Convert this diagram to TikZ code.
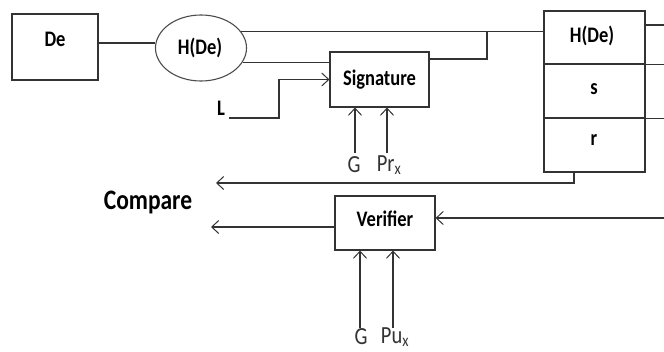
\documentclass[tikz,border=0pt]{standalone}
\usepackage{fontspec}
\usepackage{graphicx}
\setmainfont{Carlito}
\usetikzlibrary{arrows.meta,shapes.geometric,calc}
\newcommand{\vs}[1]{\scalebox{1}[1.2]{#1}}
\begin{document}
\begin{tikzpicture}[x=1pt,y=-1pt,
  ln/.style={draw=black!80,line width=1.1pt},
  blk/.style={draw=black!80,line width=1.1pt,rectangle,inner sep=0pt},
  bl/.style={font=\fontsize{18.5}{22}\selectfont\bfseries,inner sep=0pt},
  rl/.style={font=\fontsize{20.5}{24}\selectfont,text=black!80,inner sep=0pt},
  arr/.style={ln,-{Straight Barb[length=7pt,width=13pt,line width=1pt]}}]
\useasboundingbox (0,0) rectangle (664,351);
% boxes
\node[blk,minimum width=86pt,minimum height=66pt] (de) at (55,47) {};
\node[bl] (detx) at (55,39) {\vs{De}};
\node[draw=black!70,line width=1.1pt,ellipse,minimum width=91pt,minimum height=66pt,inner sep=0pt] (hde) at (201,48) {};
\node[bl] (hdetx) at (200,48) {\vs{H(De)}};
\node[blk,minimum width=99pt,minimum height=55pt] (sig) at (379.5,79.5) {};
\node[bl] (sigtx) at (379.5,79.5) {\vs{Signature}};
\node[blk,minimum width=101pt,minimum height=53pt] (h1) at (594.5,37.5) {};
\node[bl] (h1tx) at (592,36) {\vs{H(De)}};
\node[blk,minimum width=101pt,minimum height=54pt] (sc) at (594.5,91) {};
\node[bl] (sctx) at (594,89) {\vs{s}};
\node[blk,minimum width=101pt,minimum height=54pt] (rc) at (594.5,145) {};
\node[bl] (rctx) at (594,140) {\vs{r}};
\node[blk,minimum width=100pt,minimum height=54pt] (ver) at (385,223) {};
\node[bl] (vertx) at (385,219) {\vs{Verifier}};
\node[bl] (lnode) at (221,108) {\vs{L}};
\node[font=\fontsize{23.5}{28}\selectfont\bfseries,inner sep=0pt] (cmp) at (148,202) {\vs{Compare}};
% coordinates
\coordinate (e1) at (664,25);
\coordinate (e4) at (664,218);
\coordinate (c1) at (216,183);
\coordinate (c2) at (211,227);
\coordinate (lstart) at (229,118);
\coordinate (j) at (487,32);
\coordinate (lk) at (279,118);
\coordinate (a1) at (355,153);
\coordinate (a2) at (387,153);
\coordinate (b1) at (360,328);
\coordinate (b2) at (393,328);
% labels under
\node[rl] (g1) at (354,165) {\vs{G}};
\node[rl] (pr) at (389,165) {\vs{Pr\textsubscript{x}}};
\node[rl] (g2) at (361,337) {\vs{G}};
\node[rl] (pu) at (395,337) {\vs{Pu\textsubscript{x}}};
% connectors
\draw[ln] ([yshift=4pt]de.east) -- ([yshift=4pt]de.east -| hde.west);
\draw[ln] (hde.22) -- (hde.22 -| h1.west);
\draw[ln] (hde.-19) -- (hde.-19 -| sig.west);
\draw[ln] ([yshift=20.5pt]sig.east) -| (j);
\draw[arr] (lstart) -- (lk) |- (sig.west);
\draw[ln] ([yshift=12.5pt]h1.east) -- (e1);
\draw[ln] (h1.south east) -- (h1.south east -| e1);
\draw[ln] (sc.south east) -- (sc.south east -| e1);
\draw[arr] (a1) -- (a1 |- sig.south);
\draw[arr] (a2) -- (a2 |- sig.south);
\draw[arr] ([xshift=-20.5pt]rc.south) |- (c1);
\draw[arr] ([yshift=-4pt]ver.west) -- (c2);
\draw[arr] (e4) -- (e4 -| ver.east);
\draw[arr] (b1) -- (b1 |- ver.south);
\draw[arr] (b2) -- (b2 |- ver.south);
\end{tikzpicture}
\end{document}
